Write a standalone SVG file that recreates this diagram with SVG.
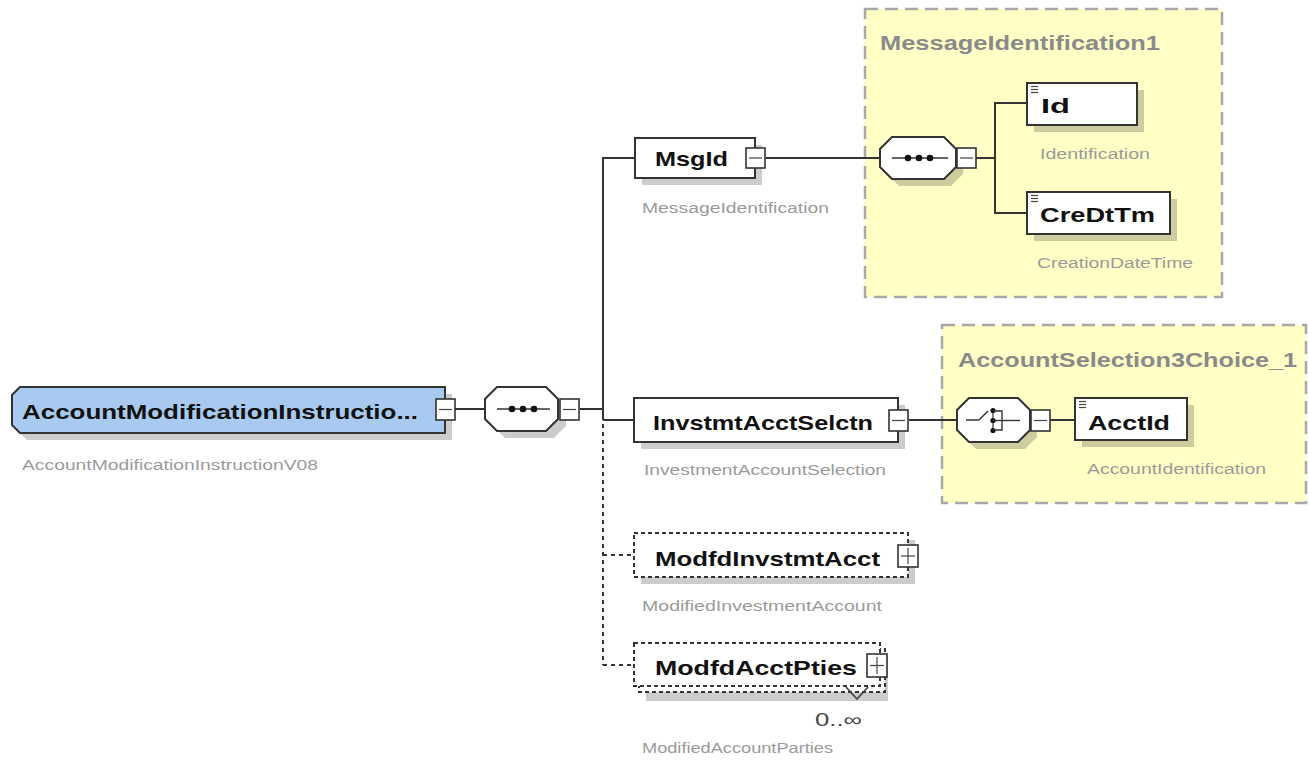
<svg xmlns="http://www.w3.org/2000/svg" width="1309" height="761" viewBox="0 0 1309 761">
<defs>
<style>
.bg{fill:#ffffff}
.ybox{fill:#ffffc6;stroke:#a8a8a8;stroke-width:2.5;stroke-dasharray:13 7}
.ttl{font-family:"Liberation Sans",Arial,sans-serif;font-weight:bold;font-size:20px;fill:#8a8a8a}
.lbl{font-family:"Liberation Sans",Arial,sans-serif;font-weight:bold;font-size:21px;fill:#111}
.sub{font-family:"Liberation Sans",Arial,sans-serif;font-size:14px;fill:#9a9a9a}
.occ{font-family:"Liberation Sans",Arial,sans-serif;font-size:18px;fill:#444}
.node{fill:#ffffff;stroke:#333;stroke-width:2}
.opt{fill:#ffffff;stroke:#333;stroke-width:2;stroke-dasharray:4 3}
.sh{fill:#000;opacity:0.2}
.btn{fill:#ffffff;stroke:#333;stroke-width:1.6}
.ln{fill:none;stroke:#333;stroke-width:2}
.dln{fill:none;stroke:#333;stroke-width:2;stroke-dasharray:4 4}
.ic{stroke:#444;stroke-width:1.2}
</style>
</defs>
<rect class="bg" x="0" y="0" width="1309" height="761"/>

<!-- complex type containers -->
<g id="type-MessageIdentification1">
<rect class="ybox" x="865" y="9" width="357" height="288"/>
<text class="ttl" x="880" y="50" textLength="280" lengthAdjust="spacingAndGlyphs">MessageIdentification1</text>
</g>
<g id="type-AccountSelection3Choice_1">
<rect class="ybox" x="942" y="325" width="364" height="178"/>
<text class="ttl" x="958" y="367" textLength="339" lengthAdjust="spacingAndGlyphs">AccountSelection3Choice_1</text>
</g>

<!-- connectors -->
<g id="connectors">
<line class="ln" x1="455" y1="409" x2="485" y2="409"/>
<line class="ln" x1="580" y1="409" x2="603" y2="409"/>
<line class="ln" x1="603" y1="157" x2="603" y2="420"/>
<line class="ln" x1="602" y1="158" x2="635" y2="158"/>
<line class="ln" x1="603" y1="420" x2="634" y2="420"/>
<line class="dln" x1="603" y1="424" x2="603" y2="665"/>
<line class="dln" x1="603" y1="555" x2="634" y2="555"/>
<line class="dln" x1="603" y1="665" x2="634" y2="665"/>
<line class="ln" x1="766" y1="158" x2="880" y2="158"/>
<line class="ln" x1="976" y1="158" x2="995" y2="158"/>
<line class="ln" x1="995" y1="103" x2="995" y2="213"/>
<line class="ln" x1="994" y1="103" x2="1027" y2="103"/>
<line class="ln" x1="994" y1="213" x2="1027" y2="213"/>
<line class="ln" x1="909" y1="420" x2="957" y2="420"/>
<line class="ln" x1="1050" y1="420" x2="1075" y2="420"/>
</g>

<!-- root element -->
<g id="node-root">
<polygon class="sh" points="27,394 452,394 452,440 27,440 19,432 19,402"/>
<polygon points="20,387 445,387 445,433 20,433 12,425 12,395" fill="#a8caf0" stroke="#333" stroke-width="2"/>
<text class="lbl" x="22" y="419" textLength="396" lengthAdjust="spacingAndGlyphs">AccountModificationInstructio...</text>
<rect class="btn" x="436" y="399" width="19" height="21"/>
<line class="ic" x1="439" y1="409.5" x2="452" y2="409.5"/>
<text class="sub" x="22" y="470" textLength="296" lengthAdjust="spacingAndGlyphs">AccountModificationInstructionV08</text>
</g>

<!-- sequence compositor of root -->
<g id="node-seq-root">
<polygon class="sh" points="505,394 554,394 566,406 566,426 554,438 505,438 493,426 493,406"/>
<polygon class="node" points="497,387 546,387 558,399 558,419 546,431 497,431 485,419 485,399"/>
<line x1="497" y1="409" x2="550" y2="409" stroke="#333" stroke-width="1.5"/>
<circle cx="512" cy="409" r="3.3" fill="#111"/>
<circle cx="523" cy="409" r="3.3" fill="#111"/>
<circle cx="534" cy="409" r="3.3" fill="#111"/>
<rect class="btn" x="560" y="399" width="19" height="21"/>
<line class="ic" x1="563" y1="409.5" x2="576" y2="409.5"/>
</g>

<!-- MsgId -->
<g id="node-MsgId">
<rect class="sh" x="642" y="145" width="120" height="40"/>
<rect class="node" x="635" y="138" width="120" height="40"/>
<text class="lbl" x="655" y="166" textLength="73" lengthAdjust="spacingAndGlyphs">MsgId</text>
<rect class="btn" x="746" y="148" width="19" height="20"/>
<line class="ic" x1="749" y1="158" x2="762" y2="158"/>
<text class="sub" x="642" y="213" textLength="187" lengthAdjust="spacingAndGlyphs">MessageIdentification</text>
</g>

<!-- sequence compositor of MessageIdentification1 -->
<g id="node-seq-msgid">
<polygon class="sh" points="899,144 951,144 963,156 963,174 951,186 899,186 887,174 887,156"/>
<polygon class="node" points="892,137 944,137 956,149 956,167 944,179 892,179 880,167 880,149"/>
<line x1="892" y1="158" x2="948" y2="158" stroke="#333" stroke-width="1.5"/>
<circle cx="908" cy="158" r="3.3" fill="#111"/>
<circle cx="919" cy="158" r="3.3" fill="#111"/>
<circle cx="930" cy="158" r="3.3" fill="#111"/>
<rect class="btn" x="957" y="148" width="19" height="20"/>
<line class="ic" x1="960" y1="158" x2="973" y2="158"/>
</g>

<!-- Id -->
<g id="node-Id">
<rect class="sh" x="1034" y="90" width="110" height="42"/>
<rect class="node" x="1027" y="83" width="110" height="42"/>
<line class="ic" x1="1031" y1="86.5" x2="1038" y2="86.5"/>
<line class="ic" x1="1031" y1="89.5" x2="1038" y2="89.5"/>
<line class="ic" x1="1031" y1="92.5" x2="1038" y2="92.5"/>
<text class="lbl" x="1041" y="113" textLength="29" lengthAdjust="spacingAndGlyphs">Id</text>
<text class="sub" x="1040" y="159" textLength="110" lengthAdjust="spacingAndGlyphs">Identification</text>
</g>

<!-- CreDtTm -->
<g id="node-CreDtTm">
<rect class="sh" x="1034" y="199" width="143" height="42"/>
<rect class="node" x="1027" y="192" width="143" height="42"/>
<line class="ic" x1="1031" y1="195.5" x2="1038" y2="195.5"/>
<line class="ic" x1="1031" y1="198.5" x2="1038" y2="198.5"/>
<line class="ic" x1="1031" y1="201.5" x2="1038" y2="201.5"/>
<text class="lbl" x="1040" y="222" textLength="115" lengthAdjust="spacingAndGlyphs">CreDtTm</text>
<text class="sub" x="1037" y="268" textLength="156" lengthAdjust="spacingAndGlyphs">CreationDateTime</text>
</g>

<!-- InvstmtAcctSelctn -->
<g id="node-InvstmtAcctSelctn">
<rect class="sh" x="641" y="405" width="264" height="44"/>
<rect class="node" x="634" y="398" width="264" height="44"/>
<text class="lbl" x="653" y="430" textLength="220" lengthAdjust="spacingAndGlyphs">InvstmtAcctSelctn</text>
<rect class="btn" x="889" y="410" width="19" height="21"/>
<line class="ic" x1="892" y1="420.5" x2="905" y2="420.5"/>
<text class="sub" x="644" y="475" textLength="242" lengthAdjust="spacingAndGlyphs">InvestmentAccountSelection</text>
</g>

<!-- choice compositor -->
<g id="node-choice">
<polygon class="sh" points="976,405 1025,405 1037,417 1037,437 1025,449 976,449 964,437 964,417"/>
<polygon class="node" points="969,398 1018,398 1030,410 1030,430 1018,442 969,442 957,430 957,410"/>
<line x1="966" y1="420" x2="979" y2="420" stroke="#333" stroke-width="1.5"/>
<line x1="979" y1="420" x2="988" y2="411" stroke="#333" stroke-width="1.5"/>
<line x1="993" y1="410" x2="993" y2="431" stroke="#333" stroke-width="1.2"/>
<circle cx="993" cy="410.5" r="2.6" fill="#111"/>
<circle cx="993" cy="420.5" r="2.6" fill="#111"/>
<circle cx="993" cy="430.5" r="2.6" fill="#111"/>
<polyline points="993,411 1002,411 1002,430 993,430" fill="none" stroke="#333" stroke-width="1.4"/>
<line x1="993" y1="420.5" x2="1020" y2="420.5" stroke="#333" stroke-width="1.4"/>
<rect class="btn" x="1031" y="410" width="19" height="21"/>
<line class="ic" x1="1034" y1="420.5" x2="1047" y2="420.5"/>
</g>

<!-- AcctId -->
<g id="node-AcctId">
<rect class="sh" x="1082" y="405" width="112" height="42"/>
<rect class="node" x="1075" y="398" width="112" height="42"/>
<line class="ic" x1="1079" y1="401.5" x2="1086" y2="401.5"/>
<line class="ic" x1="1079" y1="404.5" x2="1086" y2="404.5"/>
<line class="ic" x1="1079" y1="407.5" x2="1086" y2="407.5"/>
<text class="lbl" x="1088" y="430" textLength="82" lengthAdjust="spacingAndGlyphs">AcctId</text>
<text class="sub" x="1087" y="474" textLength="179" lengthAdjust="spacingAndGlyphs">AccountIdentification</text>
</g>

<!-- ModfdInvstmtAcct -->
<g id="node-ModfdInvstmtAcct">
<rect class="sh" x="641" y="540" width="274" height="44"/>
<rect class="opt" x="634" y="533" width="274" height="44"/>
<text class="lbl" x="655" y="566" textLength="225" lengthAdjust="spacingAndGlyphs">ModfdInvstmtAcct</text>
<rect class="btn" x="898" y="545" width="20" height="22"/>
<line class="ic" x1="901" y1="556" x2="915" y2="556"/>
<line class="ic" x1="908" y1="548" x2="908" y2="564"/>
<text class="sub" x="642" y="611" textLength="240" lengthAdjust="spacingAndGlyphs">ModifiedInvestmentAccount</text>
</g>

<!-- ModfdAcctPties -->
<g id="node-ModfdAcctPties">
<rect class="sh" x="646" y="656" width="242" height="45"/>
<rect class="opt" x="639" y="649" width="246" height="43"/>
<rect class="opt" x="634" y="643" width="246" height="43"/>
<text class="lbl" x="655" y="675" textLength="202" lengthAdjust="spacingAndGlyphs">ModfdAcctPties</text>
<rect class="btn" x="867" y="654" width="20" height="23"/>
<line class="ic" x1="870" y1="665.5" x2="884" y2="665.5"/>
<line class="ic" x1="877" y1="657" x2="877" y2="674"/>
<polyline points="846,687 857,699 868,687" fill="none" stroke="#444" stroke-width="1.8"/>
<text class="occ" x="815" y="726" textLength="47" lengthAdjust="spacingAndGlyphs">0..∞</text>
<text class="sub" x="642" y="753" textLength="191" lengthAdjust="spacingAndGlyphs">ModifiedAccountParties</text>
</g>
</svg>
